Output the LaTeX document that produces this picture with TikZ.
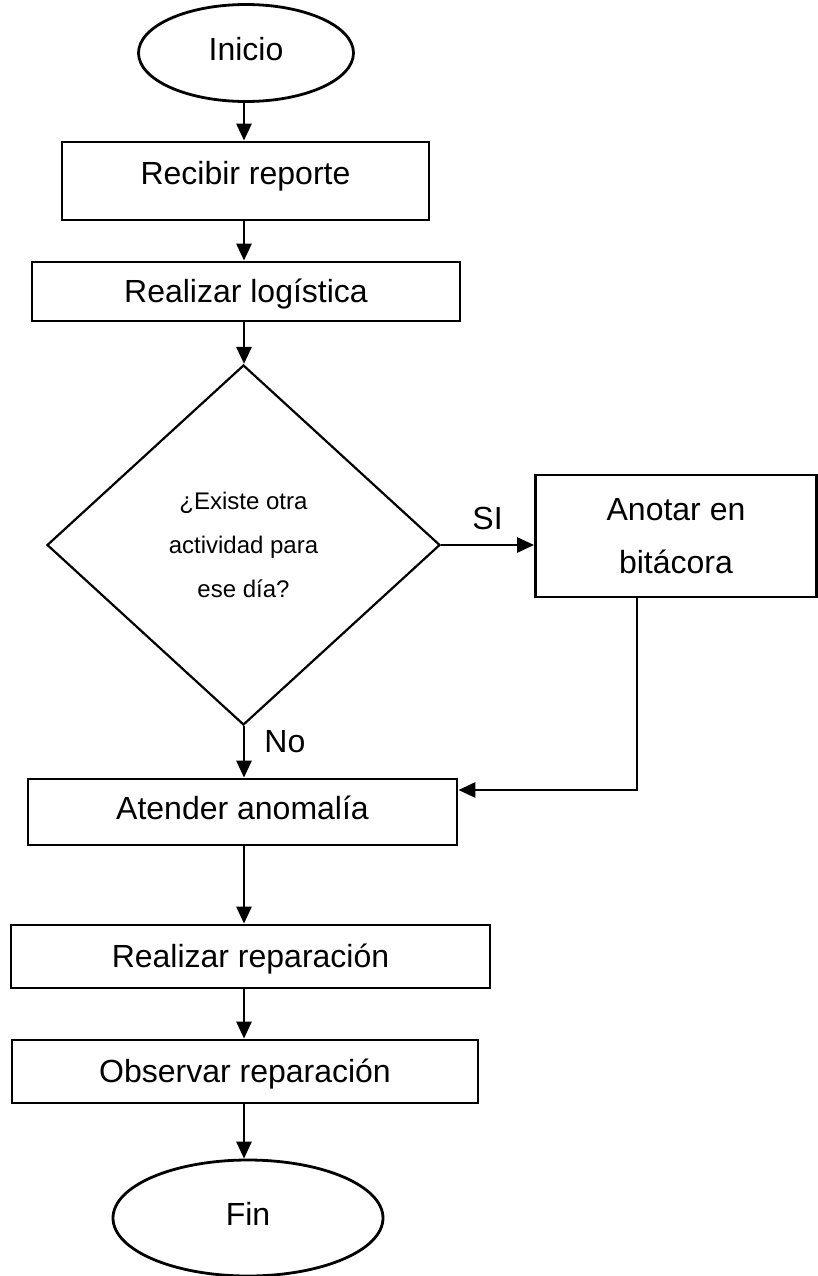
\documentclass[tikz,border=0pt]{standalone}
\usepackage{fontspec}
\setmainfont{Liberation Sans}
\usetikzlibrary{arrows.meta,shapes.geometric}

\begin{document}
\begin{tikzpicture}[x=1pt,y=-1pt,
  flow/.style={draw,line width=2.8pt,inner sep=0pt,font=\fontsize{32}{53}\selectfont},
  procbox/.style={flow,rectangle,text height=26pt,text depth=4pt},
  termbox/.style={flow,ellipse,text height=26pt,text depth=11pt},
  decbox/.style={draw,line width=2.2pt,diamond,inner sep=0pt,align=center,
    font=\fontsize{24}{44}\selectfont},
  lbl/.style={inner sep=0pt,font=\fontsize{32}{38}\selectfont},
  arr/.style={-{Triangle[length=17pt,width=15pt]},line width=2.8pt}]

\useasboundingbox (0,0) rectangle (817,1276);

% Main column of the process.
\node[termbox,minimum width=215pt,minimum height=97pt] (inicio) at (246,53) {Inicio};
\node[procbox,minimum width=367pt,minimum height=78pt,text depth=18pt] (recibir)
  at (245.5,181) {Recibir reporte};
\node[procbox,minimum width=428pt,minimum height=59pt] (logistica)
  at (246,291.5) {Realizar logística};
\node[decbox,minimum width=393pt,minimum height=360pt] (existe)
  at (243.5,545) {¿Existe otra\\actividad para\\ese día?};
\node[procbox,minimum width=429pt,minimum height=66pt,text depth=11pt] (atender)
  at (242.5,812) {Atender anomalía};
\node[procbox,minimum width=479pt,minimum height=63pt] (reparar)
  at (250.5,956.5) {Realizar reparación};
\node[procbox,minimum width=466pt,minimum height=63pt] (observar)
  at (245,1071.5) {Observar reparación};
\node[termbox,minimum width=270pt,minimum height=116pt] (fin) at (248,1218) {Fin};

% Side branch taken when there is another activity.
\node[flow,rectangle,align=center,minimum width=281pt,minimum height=122pt] (anotar)
  at (676,536) {Anotar en\\bitácora};

\coordinate (eje) at (244,0);
\coordinate (regreso) at (637,790);

\draw[arr] (inicio.south -| eje) -- (recibir.north -| eje);
\draw[arr] (recibir.south -| eje) -- (logistica.north -| eje);
\draw[arr] (logistica.south -| eje) -- (existe.north -| eje);
\draw[arr] (existe.south -| eje) -- (atender.north -| eje)
  node[lbl,pos=0.3,right=19pt] {No};
\draw[arr] (existe.east) -- (existe.east -| anotar.west)
  node[lbl,midway,above=14pt] {SI};
\draw[arr] (anotar.south -| regreso) -- (regreso) -- (regreso -| atender.east);
\draw[arr] (atender.south -| eje) -- (reparar.north -| eje);
\draw[arr] (reparar.south -| eje) -- (observar.north -| eje);
\draw[arr] (observar.south -| eje) -- (fin.north -| eje);

\end{tikzpicture}
\end{document}
